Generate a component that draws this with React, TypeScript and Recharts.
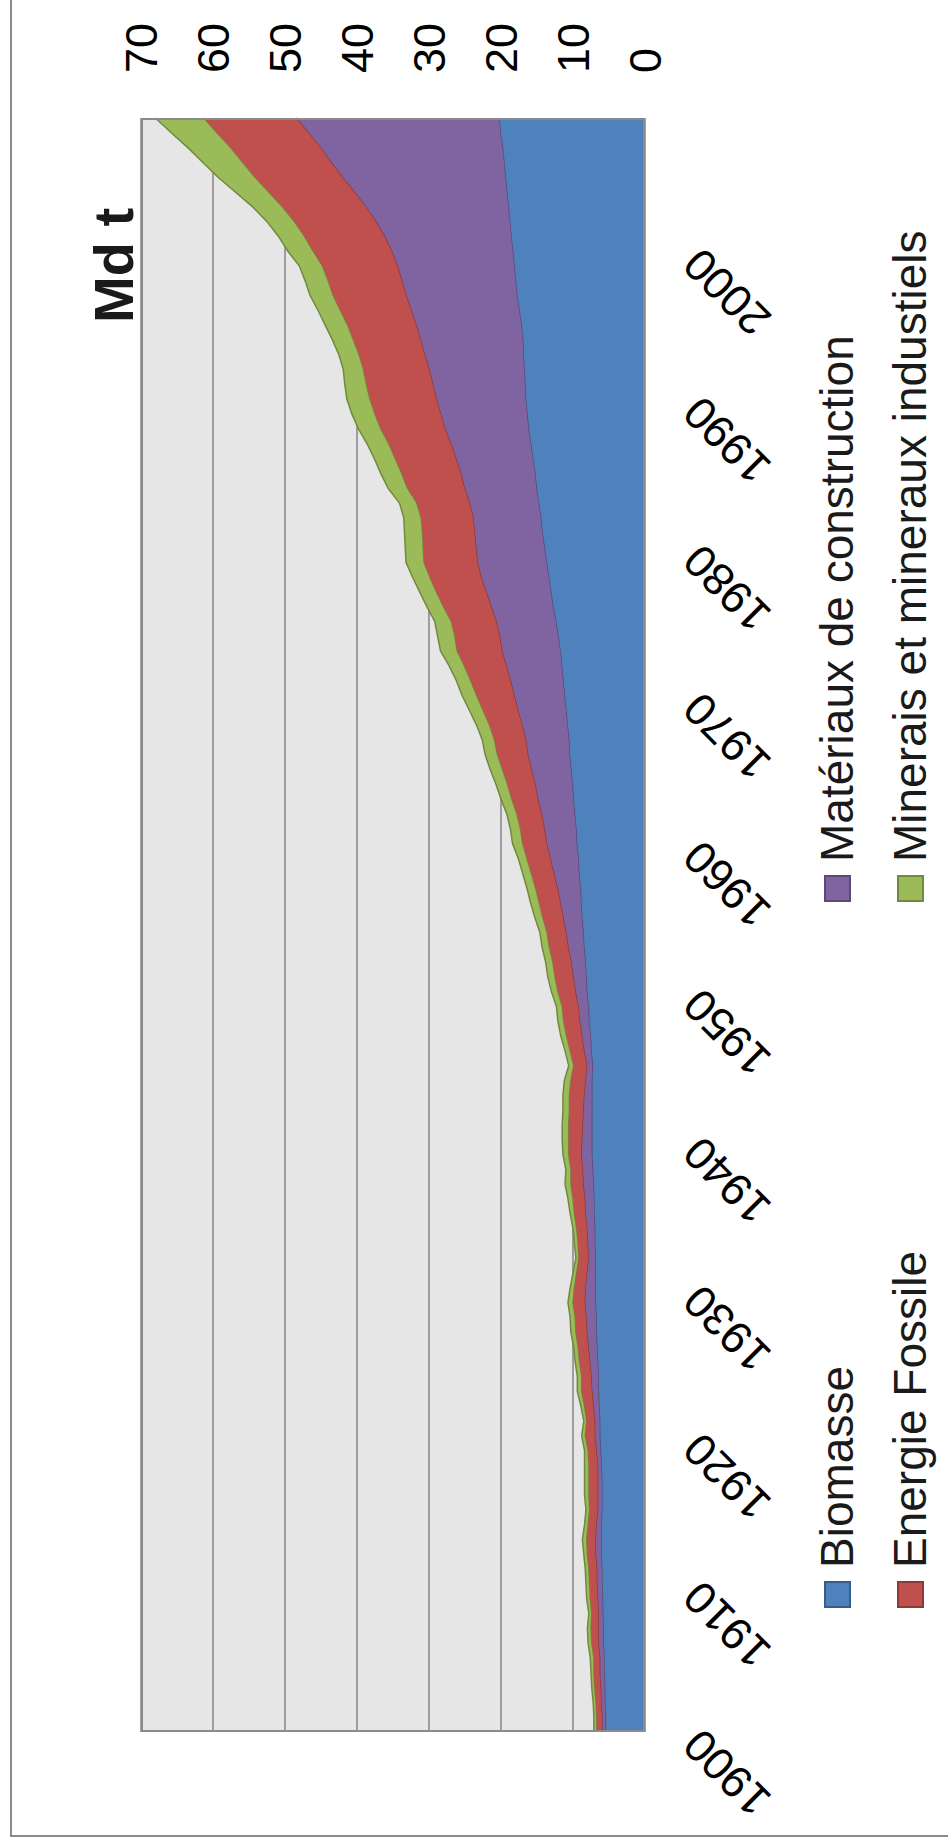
import React from 'react';
import { AreaChart, Area, XAxis, YAxis, CartesianGrid } from 'recharts';

// Global material extraction, billions of tonnes (Md t), 1900-2009
const YEARS = Array.from({ length: 110 }, (_, i) => 1900 + i);

const BIOMASSE = [
  5.5, 5.5, 5.6, 5.6, 5.7, 5.7, 5.8, 5.8, 5.9, 5.9,
  6.0, 6.0, 6.1, 6.1, 6.1, 6.0, 6.0, 6.0, 6.1, 6.2,
  6.3, 6.3, 6.4, 6.5, 6.5, 6.6, 6.7, 6.8, 6.8, 6.9,
  6.9, 6.9, 6.9, 7.0, 7.0, 7.1, 7.1, 7.2, 7.3, 7.4,
  7.4, 7.4, 7.4, 7.4, 7.4, 7.3, 7.5, 7.6, 7.8, 7.9,
  8.1, 8.2, 8.3, 8.5, 8.6, 8.8, 8.9, 9.0, 9.2, 9.3,
  9.5, 9.6, 9.8, 10.0, 10.1, 10.3, 10.5, 10.6, 10.8, 11.0,
  11.2, 11.4, 11.6, 11.8, 12.1, 12.4, 12.8, 13.1, 13.4, 13.7,
  14.0, 14.3, 14.5, 14.8, 15.1, 15.3, 15.6, 15.9, 16.2, 16.4,
  16.6, 16.7, 16.8, 16.9, 17.0, 17.2, 17.5, 17.8, 18.0, 18.2,
  18.4, 18.6, 18.8, 19.0, 19.2, 19.4, 19.6, 19.8, 20.1, 20.3,
];

const CONSTRUCTION = [
  0.5, 0.5, 0.5, 0.6, 0.6, 0.6, 0.7, 0.7, 0.6, 0.7,
  0.7, 0.7, 0.8, 0.8, 0.7, 0.6, 0.6, 0.6, 0.5, 0.6,
  0.7, 0.7, 0.8, 0.9, 1.0, 1.1, 1.2, 1.3, 1.4, 1.5,
  1.4, 1.2, 1.0, 1.0, 1.1, 1.2, 1.3, 1.4, 1.4, 1.5,
  1.4, 1.3, 1.2, 1.1, 0.9, 0.8, 1.0, 1.2, 1.3, 1.4,
  1.6, 1.8, 2.0, 2.2, 2.4, 2.6, 2.9, 3.2, 3.5, 3.9,
  4.2, 4.4, 4.6, 4.9, 5.2, 5.5, 5.8, 6.0, 6.3, 6.7,
  7.0, 7.3, 7.7, 8.1, 8.1, 8.3, 8.6, 9.0, 9.4, 9.6,
  9.5, 9.4, 9.4, 9.6, 10.0, 10.3, 10.7, 11.1, 11.6, 12.0,
  12.4, 12.8, 13.2, 13.7, 14.2, 14.6, 15.0, 15.4, 15.8, 16.2,
  16.8, 17.6, 18.6, 19.8, 21.2, 22.7, 24.0, 25.3, 26.7, 28.2,
];

const FOSSILE = [
  0.8, 0.8, 0.8, 0.9, 0.9, 0.9, 1.0, 1.1, 1.0, 1.1,
  1.1, 1.2, 1.2, 1.3, 1.2, 1.2, 1.3, 1.3, 1.3, 1.2,
  1.4, 1.2, 1.3, 1.5, 1.4, 1.5, 1.5, 1.6, 1.6, 1.7,
  1.6, 1.5, 1.4, 1.4, 1.5, 1.6, 1.7, 1.8, 1.7, 1.8,
  1.9, 2.0, 2.0, 2.1, 2.1, 1.9, 2.0, 2.2, 2.3, 2.3,
  2.5, 2.6, 2.6, 2.7, 2.7, 2.9, 3.0, 3.1, 3.2, 3.3,
  3.4, 3.4, 3.5, 3.7, 3.9, 4.1, 4.3, 4.4, 4.6, 4.9,
  5.3, 5.6, 5.9, 6.3, 6.3, 6.3, 6.7, 7.0, 7.2, 7.5,
  7.4, 7.3, 7.3, 7.4, 8.0, 8.3, 8.5, 8.7, 9.0, 9.2,
  9.3, 9.3, 9.2, 9.2, 9.4, 9.6, 9.9, 10.2, 10.3, 10.5,
  11.0, 11.2, 11.4, 11.7, 12.0, 12.2, 12.4, 12.6, 12.8, 12.9,
];

const MINERAIS = [
  0.3, 0.3, 0.3, 0.3, 0.3, 0.4, 0.4, 0.4, 0.3, 0.4,
  0.4, 0.4, 0.4, 0.5, 0.4, 0.4, 0.5, 0.5, 0.5, 0.4,
  0.4, 0.3, 0.4, 0.5, 0.5, 0.5, 0.5, 0.6, 0.6, 0.6,
  0.5, 0.4, 0.3, 0.4, 0.4, 0.5, 0.6, 0.7, 0.6, 0.7,
  0.8, 0.8, 0.8, 0.8, 0.8, 0.6, 0.6, 0.7, 0.7, 0.7,
  0.8, 0.9, 0.9, 0.9, 0.9, 1.0, 1.1, 1.1, 1.1, 1.1,
  1.3, 1.3, 1.3, 1.4, 1.5, 1.6, 1.6, 1.6, 1.7, 1.8,
  1.9, 1.9, 2.0, 2.2, 2.3, 2.2, 2.2, 2.2, 2.3, 2.4,
  2.4, 2.4, 2.3, 2.3, 2.6, 2.8, 2.8, 2.9, 3.0, 3.1,
  3.1, 2.9, 2.7, 2.7, 2.8, 3.0, 3.0, 3.1, 3.1, 3.1,
  3.4, 3.5, 3.7, 4.0, 4.5, 5.0, 5.4, 5.8, 6.2, 6.6,
];

const YEAR_TICKS = [1900, 1910, 1920, 1930, 1940, 1950, 1960, 1970, 1980, 1990, 2000];
const VALUE_TICKS = [0, 10, 20, 30, 40, 50, 60, 70];

const SERIES = [
  { key: 'biomasse', name: 'Biomasse', fill: '#4f81bd', edge: '#385d8a', line: '#5c4776' },
  { key: 'construction', name: 'Matériaux de construction', fill: '#8064a2', edge: '#5c4776', line: '#8c3836' },
  { key: 'fossile', name: 'Energie Fossile', fill: '#c0504d', edge: '#8c3836', line: '#71893f' },
  { key: 'minerais', name: 'Minerais et mineraux industiels', fill: '#9bbb59', edge: '#71893f', line: '#71893f' },
];

const data = YEARS.map((year, i) => ({
  year,
  biomasse: BIOMASSE[i],
  construction: CONSTRUCTION[i],
  fossile: FOSSILE[i],
  minerais: MINERAIS[i],
}));

const FONT = '"Liberation Sans", Arial, sans-serif';

// chart is laid out unrotated (1845 x 948) and turned a quarter to the left
const W = 1845;
const H = 948;
const PLOT = { left: 113, top: 141, right: 1727, bottom: 645 };

const YearTick = (props: any) => {
  const { x, y, payload } = props;
  return (
    <text
      transform={`translate(${x - 17},${y + 35}) rotate(-45)`}
      textAnchor="end"
      dy="0.71em"
      fontSize={45}
      fontFamily={FONT}
      fill="#000"
    >
      {payload.value}
    </text>
  );
};

const LegendItem = ({ x, y, fill, edge, label }: any) => (
  <div
    style={{
      position: 'absolute',
      left: x,
      top: y - 28,
      height: 56,
      display: 'flex',
      alignItems: 'center',
      whiteSpace: 'nowrap',
    }}
  >
    <span
      style={{
        width: 23,
        height: 23,
        background: fill,
        border: `2px solid ${edge}`,
        marginRight: 13,
      }}
    />
    <span style={{ fontSize: 46, lineHeight: 1, color: '#1a1a1a' }}>{label}</span>
  </div>
);

const App: React.FC = () => {
  const byKey = Object.fromEntries(SERIES.map(s => [s.key, s]));
  return (
    <div style={{ position: 'absolute', left: 0, top: 0, width: 948, height: 1845, overflow: 'hidden', background: '#fff' }}>
      <div
        style={{
          position: 'absolute',
          left: 0,
          top: 0,
          width: W,
          height: H,
          overflow: 'hidden',
          transformOrigin: '0 0',
          transform: `translateY(${W}px) rotate(-90deg)`,
          fontFamily: FONT,
        }}
      >
        <div
          style={{
            position: 'absolute',
            left: 8,
            top: 10,
            width: W,
            height: H,
            border: '2px solid #8c8c8c',
          }}
        />
        <div
          style={{
            position: 'absolute',
            left: 1522,
            top: 86,
            fontSize: 56,
            lineHeight: 1,
            fontWeight: 'bold',
            color: '#1a1a1a',
          }}
        >
          Md t
        </div>

        <div style={{ position: 'absolute', left: 0, top: 0 }}>
          <AreaChart
            width={W}
            height={H}
            data={data}
            margin={{ top: PLOT.top, right: 0, bottom: 0, left: PLOT.left }}
          >
            <CartesianGrid vertical={false} stroke="#868686" strokeWidth={1.5} fill="#e6e6e6" />
            <XAxis
              dataKey="year"
              type="number"
              domain={[1900, 2009]}
              ticks={YEAR_TICKS}
              height={H - PLOT.bottom}
              interval={0}
              tick={<YearTick />}
              tickLine={false}
              tickSize={0}
              tickMargin={0}
              axisLine={false}
            />
            <YAxis
              orientation="right"
              width={W - PLOT.right}
              domain={[0, 70]}
              ticks={VALUE_TICKS}
              interval={0}
              tick={{ fontSize: 45, fill: '#000', fontFamily: FONT }}
              tickLine={false}
              tickSize={0}
              tickMargin={45}
              axisLine={false}
            />
            {SERIES.map(s => (
              <Area
                key={s.key}
                type="linear"
                dataKey={s.key}
                name={s.name}
                stackId="1"
                fill={s.fill}
                fillOpacity={1}
                stroke={s.line}
                strokeWidth={1.5}
                isAnimationActive={false}
              />
            ))}
          </AreaChart>
        </div>

        <div
          style={{
            position: 'absolute',
            left: PLOT.left,
            top: PLOT.top,
            width: PLOT.right - PLOT.left,
            height: PLOT.bottom - PLOT.top,
            border: '2px solid #8a8a8a',
            boxSizing: 'border-box',
            pointerEvents: 'none',
          }}
        />

        <LegendItem x={237} y={837} fill={byKey.biomasse.fill} edge={byKey.biomasse.edge} label={byKey.biomasse.name} />
        <LegendItem x={943} y={837} fill={byKey.construction.fill} edge={byKey.construction.edge} label={byKey.construction.name} />
        <LegendItem x={237} y={910} fill={byKey.fossile.fill} edge={byKey.fossile.edge} label={byKey.fossile.name} />
        <LegendItem x={943} y={910} fill={byKey.minerais.fill} edge={byKey.minerais.edge} label={byKey.minerais.name} />
      </div>
    </div>
  );
};

export default App;
